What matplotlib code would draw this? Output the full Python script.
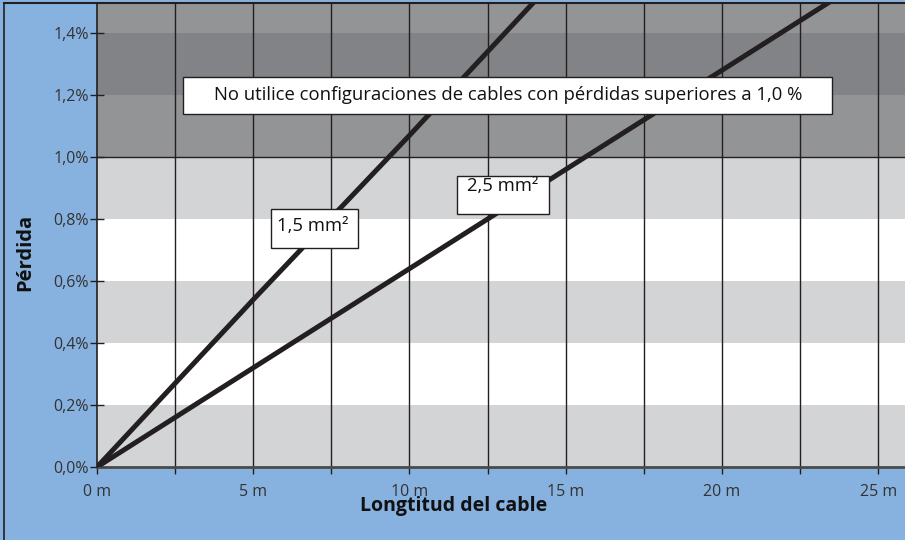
import matplotlib
matplotlib.use("Agg")
import matplotlib.pyplot as plt
from matplotlib.lines import Line2D
from matplotlib.patches import Rectangle

plt.rcParams['font.family'] = ['Open Sans', 'DejaVu Sans']

# Data
lengths_m = [0, 5, 10, 15, 20, 25]
loss_15mm2 = [0.0, 0.54, 1.07, 1.61, 2.15, 2.68]
loss_25mm2 = [0.0, 0.32, 0.64, 0.96, 1.28, 1.60]
x_ticks = [0, 5, 10, 15, 20, 25]
x_ticklabels = ['0 m', '5 m', '10 m', '15 m', '20 m', '25 m']
y_ticks = [0.0, 0.2, 0.4, 0.6, 0.8, 1.0, 1.2, 1.4]
y_ticklabels = ['0,0%', '0,2%', '0,4%', '0,6%', '0,8%', '1,0%', '1,2%', '1,4%']
bands = [(0.0, 0.2, '#d3d4d6'), (0.2, 0.4, '#ffffff'), (0.4, 0.6, '#d3d4d6'),
         (0.6, 0.8, '#ffffff'), (0.8, 1.0, '#d3d4d6'), (1.0, 1.2, '#939496'),
         (1.2, 1.4, '#828387'), (1.4, 1.6, '#939496')]
warning_text = 'No utilice configuraciones de cables con pérdidas superiores a 1,0 %'
label_15 = '1,5 mm²'
label_25 = '2,5 mm²'

W, H = 905, 540
fig = plt.figure(figsize=(W / 100, H / 100), dpi=100)
fig.patch.set_facecolor('#87b2df')

ax = fig.add_axes([97 / W, (H - 467) / H, (W - 97) / W, (467 - 4) / H])
ax.set_xlim(0, 25.86)
ax.set_ylim(0, 1.494)

for lo, hi, c in bands:
    ax.axhspan(lo, hi, color=c, lw=0, zorder=0)

ax.axhline(1.0, color='#231f20', lw=1.0, zorder=1)
for xv in [2.5 * i for i in range(1, 11)]:
    ax.axvline(xv, color='#231f20', lw=1.0, zorder=1)

ax.plot(lengths_m, loss_15mm2, color='#231f20', lw=3.6, solid_capstyle='butt', zorder=3)
ax.plot(lengths_m, loss_25mm2, color='#231f20', lw=3.6, solid_capstyle='butt', zorder=3)


def fx(px):
    return px / W


def fy(py):
    return 1 - py / H


def label_box(x0, y0, x1, y1, tx, ty, text):
    fig.add_artist(Rectangle((fx(x0), fy(y1)), fx(x1) - fx(x0), fy(y0) - fy(y1),
                             transform=fig.transFigure, fc='white', ec='#231f20',
                             lw=1.0, zorder=5))
    fig.text(fx(tx), fy(ty), text, ha='center', va='center', fontsize=13.3,
             color='#111111', zorder=6)


label_box(183, 77, 832, 114, 508, 95, warning_text)
label_box(271, 209, 358, 248, 313, 226, label_15)
label_box(457, 176, 549, 214, 503, 186, label_25)

ax.set_xticks([2.5 * i for i in range(0, 11)])
ax.set_xticklabels([x_ticklabels[i // 2] if i % 2 == 0 else '' for i in range(11)])
ax.set_yticks(y_ticks)
ax.set_yticklabels(y_ticklabels)
ax.tick_params(axis='x', direction='out', length=5, width=1.0, color='#231f20',
               labelsize=11.5, labelcolor='#333333', pad=7)
ax.tick_params(axis='y', direction='inout', length=10, width=1.0, color='#231f20',
               labelsize=11.5, labelcolor='#333333', pad=1)

for s in ['top', 'right']:
    ax.spines[s].set_visible(False)
ax.spines['left'].set_color('#231f20')
ax.spines['left'].set_linewidth(1.2)
ax.spines['bottom'].set_color('#4a4a4a')
ax.spines['bottom'].set_linewidth(2.0)
ax.spines['left'].set_zorder(4)

fig.text(454 / W, 1 - 506 / H, 'Longtitud del cable', ha='center', va='center',
         fontsize=14, fontweight='bold', color='#111111')
fig.text(25 / W, 1 - 252 / H, 'Pérdida', ha='center', va='center', rotation=90,
         fontsize=14.5, fontweight='bold', color='#111111')

# figure frame (left and top)
fig.add_artist(Line2D([4 / W, 4 / W], [0, 1 - 3 / H], transform=fig.transFigure,
                      color='#231f20', lw=1.2))
fig.add_artist(Line2D([4 / W, 1], [1 - 3 / H, 1 - 3 / H], transform=fig.transFigure,
                      color='#231f20', lw=1.5))

fig.savefig('out.png', dpi=100, facecolor=fig.get_facecolor())
